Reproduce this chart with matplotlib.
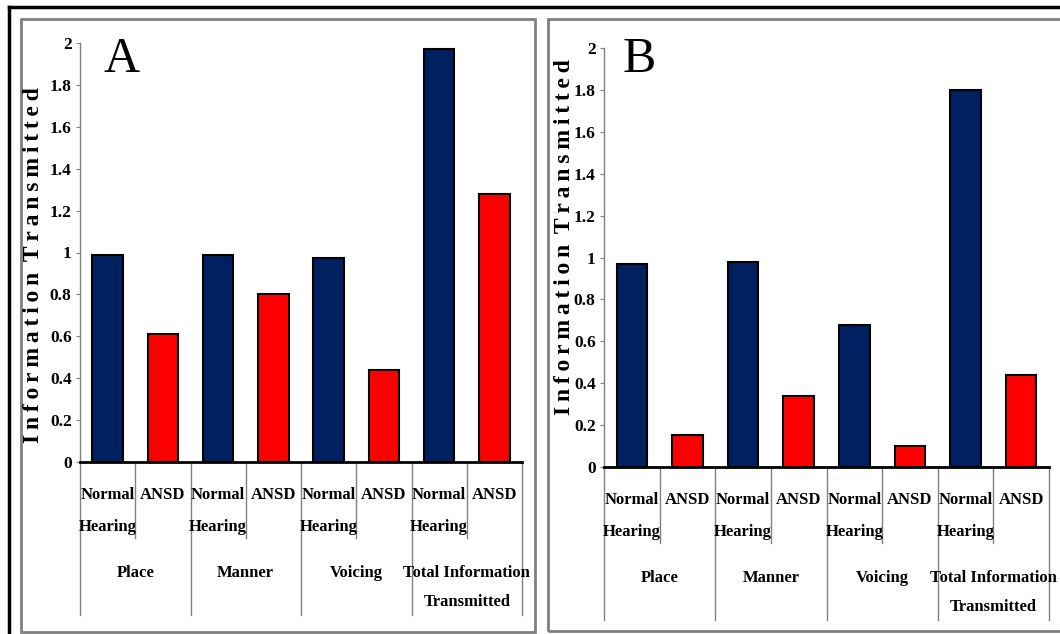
import matplotlib.pyplot as plt
from matplotlib.patches import Rectangle
from matplotlib.lines import Line2D

# data
groups = [["Place"], ["Manner"], ["Voicing"], ["Total Information", "Transmitted"]]
subgroups = [["Normal", "Hearing"], ["ANSD"]]
nh_a = [0.99, 0.99, 0.975, 1.97]
ansd_a = [0.61, 0.80, 0.44, 1.28]
nh_b = [0.97, 0.98, 0.68, 1.80]
ansd_b = [0.155, 0.34, 0.10, 0.44]
yticks = [0, 0.2, 0.4, 0.6, 0.8, 1, 1.2, 1.4, 1.6, 1.8, 2]
ytick_labels = ["0", "0.2", "0.4", "0.6", "0.8", "1", "1.2", "1.4", "1.6", "1.8", "2"]

W, H = 1060, 634
NAVY = "#002060"
RED = "#ff0000"
SERIF = ["Liberation Serif", "DejaVu Serif"]

fig = plt.figure(figsize=(W / 100, H / 100), dpi=100)


def px_rect(x0, y0, x1, y1):
    """Pixel box (top-left origin) -> figure fraction rect."""
    return [x0 / W, (H - y1) / H, (x1 - x0) / W, (y1 - y0) / H]


def draw_panel(rect, nh, ansd):
    ax = fig.add_axes(rect)
    n = len(groups)
    xs_nh = [2 * i + 0.5 for i in range(n)]
    xs_an = [2 * i + 1.5 for i in range(n)]
    ax.bar(xs_nh, nh, width=0.55, color=NAVY, edgecolor="black", linewidth=1.5)
    ax.bar(xs_an, ansd, width=0.55, color=RED, edgecolor="black", linewidth=1.5)
    ax.set_xlim(0, 2 * n)
    ax.set_ylim(0, 2)
    ax.set_yticks(yticks)
    ax.set_yticklabels(ytick_labels, fontfamily=SERIF, fontweight="bold", fontsize=12.5)
    ax.set_xticks([])
    ax.tick_params(axis="y", direction="out", length=3, color="#808080", pad=3)
    for s in ("top", "right"):
        ax.spines[s].set_visible(False)
    ax.spines["left"].set_color("#808080")
    ax.spines["left"].set_linewidth(1)
    ax.spines["bottom"].set_color("black")
    ax.spines["bottom"].set_linewidth(2)

    # category table below the axis
    tr = ax.get_xaxis_transform()
    sub_rows = [-0.079, -0.155]
    grp_rows = [-0.265, -0.334]
    for i in range(n + 1):
        ax.add_line(Line2D([2 * i, 2 * i], [0, -0.365], transform=tr,
                           color="#808080", lw=1, clip_on=False))
    for i in range(n):
        ax.add_line(Line2D([2 * i + 1, 2 * i + 1], [0, -0.181], transform=tr,
                           color="#808080", lw=1, clip_on=False))
        for k, lines in enumerate(subgroups):
            for y, line in zip(sub_rows, lines):
                ax.text(2 * i + 0.5 + k, y, line, transform=tr, ha="center", va="center",
                        fontfamily=SERIF, fontweight="bold", fontsize=12)
        for y, line in zip(grp_rows, groups[i]):
            ax.text(2 * i + 1, y, line, transform=tr, ha="center", va="center",
                    fontfamily=SERIF, fontweight="bold", fontsize=12)
    return ax


draw_panel(px_rect(80, 43, 522, 462), nh_a, ansd_a)
draw_panel(px_rect(604, 48, 1049, 467), nh_b, ansd_b)

# panel letters
fig.text(122 / W, 1 - 36 / H, "A", ha="center", va="top", fontfamily=SERIF, fontsize=36)
fig.text(639 / W, 1 - 36 / H, "B", ha="center", va="top", fontfamily=SERIF, fontsize=36)

# y axis titles with wide letter spacing
ylab = "\u2009".join("Information") + " \u2009" + "\u2009".join("Transmitted")
fig.text(34 / W, 1 - 265 / H, ylab, rotation=90, ha="center", va="center",
         fontfamily=SERIF, fontweight="bold", fontsize=17)
fig.text(564 / W, 1 - 237 / H, ylab, rotation=90, ha="center", va="center",
         fontfamily=SERIF, fontweight="bold", fontsize=17)

# panel frames
for x0, y0, x1, y1 in [(21, 19, 535, 632), (548, 19, 1064, 631)]:
    r = px_rect(x0, y0, x1, y1)
    fig.add_artist(Rectangle((r[0], r[1]), r[2], r[3], transform=fig.transFigure,
                             fill=False, edgecolor="#808080", lw=2))

# outer black frame (top and left edges visible)
fig.add_artist(Line2D([9 / W, 1], [1 - 7 / H, 1 - 7 / H], transform=fig.transFigure,
                      color="black", lw=2.5))
fig.add_artist(Line2D([9 / W, 9 / W], [0, 1 - 7 / H], transform=fig.transFigure,
                      color="black", lw=2.5))

fig.savefig("out.png", dpi=100)
